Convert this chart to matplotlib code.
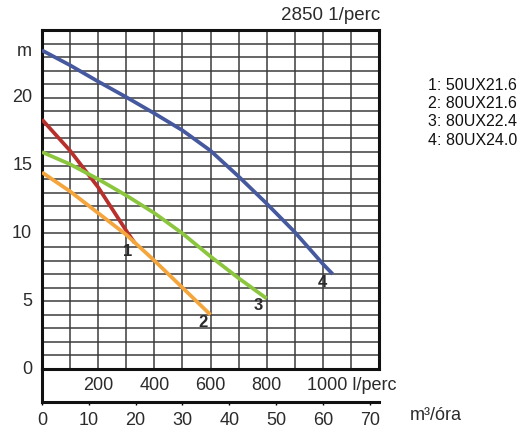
import matplotlib.pyplot as plt
import numpy as np

plt.rcParams['font.family'] = ['Liberation Sans', 'DejaVu Sans']

# flow in l/perc, head in m
q1 = [0, 100, 200, 300, 330]
h1 = [18.4, 16.1, 13.4, 10.2, 9.3]
q2 = [0, 100, 200, 300, 400, 500, 600]
h2 = [14.5, 13.1, 11.5, 9.9, 8.0, 6.0, 4.0]
q3 = [0, 100, 200, 300, 400, 500, 600, 700, 800]
h3 = [16.0, 15.1, 14.0, 12.8, 11.5, 10.0, 8.3, 6.7, 5.2]
q4 = [0, 100, 200, 300, 400, 500, 600, 700, 800, 900, 1000, 1035]
h4 = [23.5, 22.4, 21.2, 20.05, 18.85, 17.6, 16.1, 14.2, 12.2, 10.1, 7.75, 7.0]

models = ['1: 50UX21.6', '2: 80UX21.6', '3: 80UX22.4', '4: 80UX24.0']
lpm_ticks = [200, 400, 600, 800]
m3h_ticks = [0, 10, 20, 30, 40, 50, 60, 70]
y_ticks = [0, 5, 10, 15, 20]

colors = ['#b8302b', '#f4a53c', '#8cc63f', '#46599e']
txt = '#2b2b2b'

W, H = 527, 434
fig = plt.figure(figsize=(W / 100, H / 100), dpi=100)

def box(x0, y0, x1, y1):
    return [x0 / W, 1 - y1 / H, (x1 - x0) / W, (y1 - y0) / H]

ax = fig.add_axes(box(42, 30, 379, 369))
ax.set_xlim(0, 1200)
ax.set_ylim(0, 25)
ax.set_xticks(np.arange(0, 1201, 100))
ax.set_yticks(np.arange(0, 26, 1))
ax.tick_params(length=0, labelbottom=False, labelleft=False)
ax.xaxis.grid(True, color='#3c3c3c', linewidth=1.1)
ax.yaxis.grid(True, color='#3c3c3c', linewidth=1.1)
ax.set_axisbelow(True)
for s in ax.spines.values():
    s.set_linewidth(2.2)
    s.set_color('#111111')

for q, h, c in zip([q1, q2, q3, q4], [h1, h2, h3, h4], colors):
    ax.plot(q, h, color=c, linewidth=2.7, solid_capstyle='butt', zorder=3)

# curve numbers
ax.text(q1[-1] - 25, h1[-1] - 0.6, '1', fontsize=12, color=txt, ha='center', va='center', fontweight='bold')
ax.text(q2[-1] - 25, h2[-1] - 0.6, '2', fontsize=12, color=txt, ha='center', va='center', fontweight='bold')
ax.text(q3[-1] - 30, h3[-1] - 0.5, '3', fontsize=12, color=txt, ha='center', va='center', fontweight='bold')
ax.text(q4[-1] - 35, h4[-1] - 0.6, '4', fontsize=12, color=txt, ha='center', va='center', fontweight='bold')

# y labels
for v in y_ticks:
    ax.text(-35, v, str(v), fontsize=13, color=txt, ha='right', va='center')
ax.text(-35, 23.4, 'm', fontsize=13, color=txt, ha='right', va='center')

# lower box with l/perc and m3/h scales
ax2 = fig.add_axes(box(42, 369, 379, 402))
ax2.set_xlim(0, 72)
ax2.set_ylim(0, 1)
ax2.set_yticks([])
ax2.set_xticks(m3h_ticks)
ax2.set_xticklabels([str(v) for v in m3h_ticks], fontsize=13, color=txt)
ax2.tick_params(axis='x', length=2.5, width=1, pad=5)
ax2.spines['top'].set_visible(False)
ax2.spines['right'].set_visible(False)
for s in ['left', 'bottom']:
    ax2.spines[s].set_linewidth(2.2)
    ax2.spines[s].set_color('#111111')
ax2.patch.set_alpha(0)

for v in lpm_ticks:
    ax2.text(v * 0.06, 0.5, str(v), fontsize=13, color=txt, ha='center', va='center')
ax2.text(943 * 0.06, 0.5, '1000 l/perc', fontsize=13, color=txt, ha='left', va='center')

fig.text(410 / W, 1 - 416 / H, 'm³/óra', fontsize=13, color=txt, ha='left', va='center')
fig.text(380 / W, 1 - 16 / H, '2850 1/perc', fontsize=13.5, color=txt, ha='right', va='center')

for i, m in enumerate(models):
    fig.text(428 / W, 1 - (85.5 + i * 18.2) / H, m, fontsize=11.5, color='#111111', ha='left', va='center')

fig.savefig('out.png', dpi=100)
